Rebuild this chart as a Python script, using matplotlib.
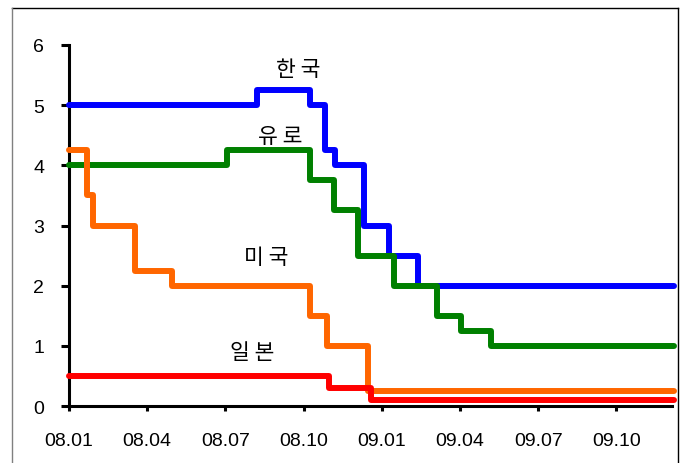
import matplotlib
matplotlib.use("Agg")
import matplotlib.pyplot as plt
from matplotlib.lines import Line2D
from datetime import date
import calendar

# policy rate changes (date of change, new rate %)
kr_dates = ["2008-01-01", "2008-08-07", "2008-10-09", "2008-10-27", "2008-11-07",
            "2008-12-11", "2009-01-09", "2009-02-12", "2009-12-07"]
kr_rates = [5.00, 5.25, 5.00, 4.25, 4.00, 3.00, 2.50, 2.00, 2.00]

eu_dates = ["2008-01-01", "2008-07-03", "2008-10-08", "2008-11-06", "2008-12-04",
            "2009-01-15", "2009-03-05", "2009-04-02", "2009-05-07", "2009-12-07"]
eu_rates = [4.00, 4.25, 3.75, 3.25, 2.50, 2.00, 1.50, 1.25, 1.00, 1.00]

us_dates = ["2008-01-01", "2008-01-22", "2008-01-30", "2008-03-18", "2008-04-30",
            "2008-10-08", "2008-10-29", "2008-12-16", "2009-12-07"]
us_rates = [4.25, 3.50, 3.00, 2.25, 2.00, 1.50, 1.00, 0.25, 0.25]

jp_dates = ["2008-01-01", "2008-10-31", "2008-12-19", "2009-12-07"]
jp_rates = [0.50, 0.30, 0.10, 0.10]

tick_labels = ["08.01", "08.04", "08.07", "08.10", "09.01", "09.04", "09.07", "09.10"]
series_names = ["한 국", "유 로", "미 국", "일 본"]


def to_month(s):
    # months since 2008-01-01 as a float
    d = date.fromisoformat(s)
    days = calendar.monthrange(d.year, d.month)[1]
    return (d.year - 2008) * 12 + (d.month - 1) + (d.day - 1) / days


W, H = 686, 464
fig = plt.figure(figsize=(W / 100, H / 100), dpi=100)

# outer frame
fig.add_artist(Line2D([12 / W, 678 / W], [1 - 9 / H, 1 - 9 / H], color="black", lw=1))
fig.add_artist(Line2D([678 / W, 678 / W], [0, 1 - 9 / H], color="black", lw=1))
fig.add_artist(Line2D([12 / W, 12 / W], [0, 1 - 9 / H], color="#808080", lw=1))

ax = fig.add_axes([69 / W, 1 - 407 / H, (672 - 69) / W, (407 - 46) / H])

series = [(kr_dates, kr_rates, "#0000FF"),
          (eu_dates, eu_rates, "#008000"),
          (us_dates, us_rates, "#FF6600"),
          (jp_dates, jp_rates, "#FF0000")]
for dts, rates, col in series:
    xs = [to_month(s) for s in dts]
    ax.plot(xs, rates, drawstyle="steps-post", color=col, lw=4.3,
            solid_joinstyle="round", solid_capstyle="round", clip_on=False, zorder=3)

ax.set_xlim(0, 23.13)
ax.set_ylim(0, 6)
ax.set_xticks(range(0, 24, 3))
ax.set_xticklabels(tick_labels)
ax.set_yticks(range(0, 7))

for sp in ["top", "right"]:
    ax.spines[sp].set_visible(False)
for sp in ["left", "bottom"]:
    ax.spines[sp].set_linewidth(2.2)
ax.tick_params(axis="y", direction="out", length=6, width=2.2, pad=12, labelsize=14)
ax.tick_params(axis="x", direction="out", length=3.5, width=2.2, pad=15, labelsize=14)
for lab in ax.get_xticklabels() + ax.get_yticklabels():
    lab.set_fontfamily("Liberation Sans")

# series names
label_pos = [(8.78, 5.60), (8.11, 4.49), (7.58, 2.48), (7.04, 0.90)]
for name, (x, y) in zip(series_names, label_pos):
    ax.text(x, y, name, ha="center", va="center", fontsize=15.5,
            family=["Noto Sans CJK KR", "DejaVu Sans"])

fig.savefig("out.png", dpi=100)
